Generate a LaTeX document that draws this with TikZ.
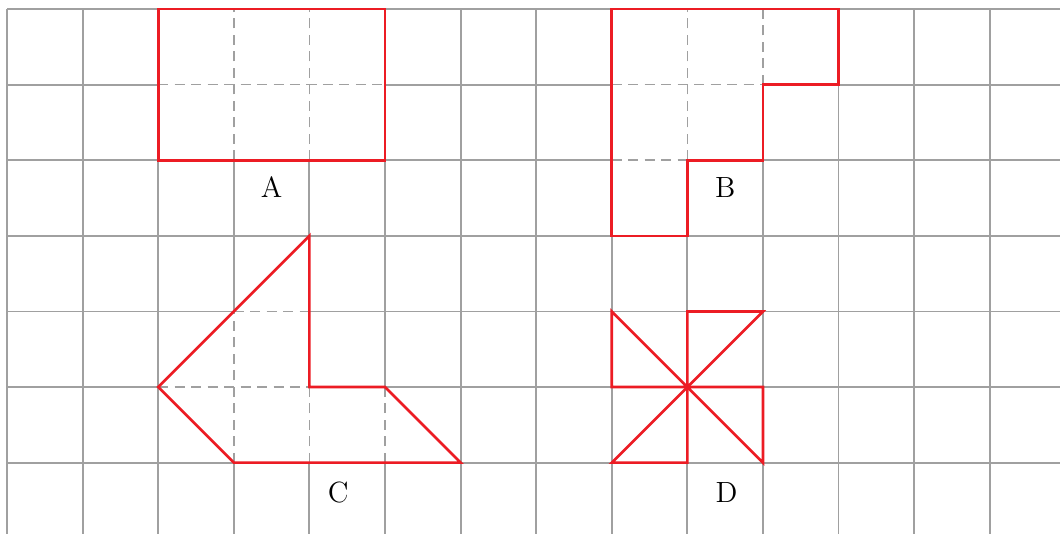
\documentclass[tikz,border=0pt]{standalone}
\usepackage{tikz}
\definecolor{gridgray}{RGB}{160,160,160}
\definecolor{shapered}{RGB}{236,28,36}

\begin{document}
\begin{tikzpicture}[font=\fontsize{11}{13}\selectfont,
    grid/.style={gridgray, line width=0.7pt},
    split/.style={gridgray, line width=0.6pt, dash pattern=on 3.8pt off 2.4pt},
    outline/.style={shapered, line width=1pt, line join=miter}]
    \useasboundingbox (-0.093,-0.94) rectangle (13.93,6.12);
    \draw[grid] (0,-0.94) grid (13.93,6);

    % A
    \fill[white] (2,4) rectangle (5,6);
    \draw[split] (3,4) -- (3,6) (4,4) -- (4,6) (2,5) -- (5,5);
    \draw[outline] (2,4) rectangle (5,6);
    \node (A) at (3.5,3.64) {A};

    % B
    \fill[white] (8,6) -- (11,6) -- (11,5) -- (10,5) -- (10,4) -- (9,4)
        -- (9,3) -- (8,3) -- cycle;
    \draw[split] (9,4) -- (9,6) (10,5) -- (10,6) (8,5) -- (10,5) (8,4) -- (9,4);
    \draw[outline] (8,6) -- (11,6) -- (11,5) -- (10,5) -- (10,4) -- (9,4)
        -- (9,3) -- (8,3) -- cycle;
    \node (B) at (9.5,3.64) {B};

    % C
    \fill[white] (4,3) -- (4,1) -- (5,1) -- (6,0) -- (3,0) -- (2,1) -- cycle;
    \draw[split] (3,2) -- (4,2) (2,1) -- (4,1) (3,0) -- (3,2) (4,0) -- (4,1)
        (5,0) -- (5,1);
    \draw[outline] (4,3) -- (4,1) -- (5,1) -- (6,0) -- (3,0) -- (2,1) -- cycle;
    \node (C) at (4.38,-0.4) {C};

    % D
    \draw[outline] (8,2) -- (10,0) -- (10,1) -- (8,1) -- cycle;
    \draw[outline] (8,0) -- (10,2) -- (9,2) -- (9,0) -- cycle;
    \node (D) at (9.52,-0.4) {D};
\end{tikzpicture}
\end{document}
